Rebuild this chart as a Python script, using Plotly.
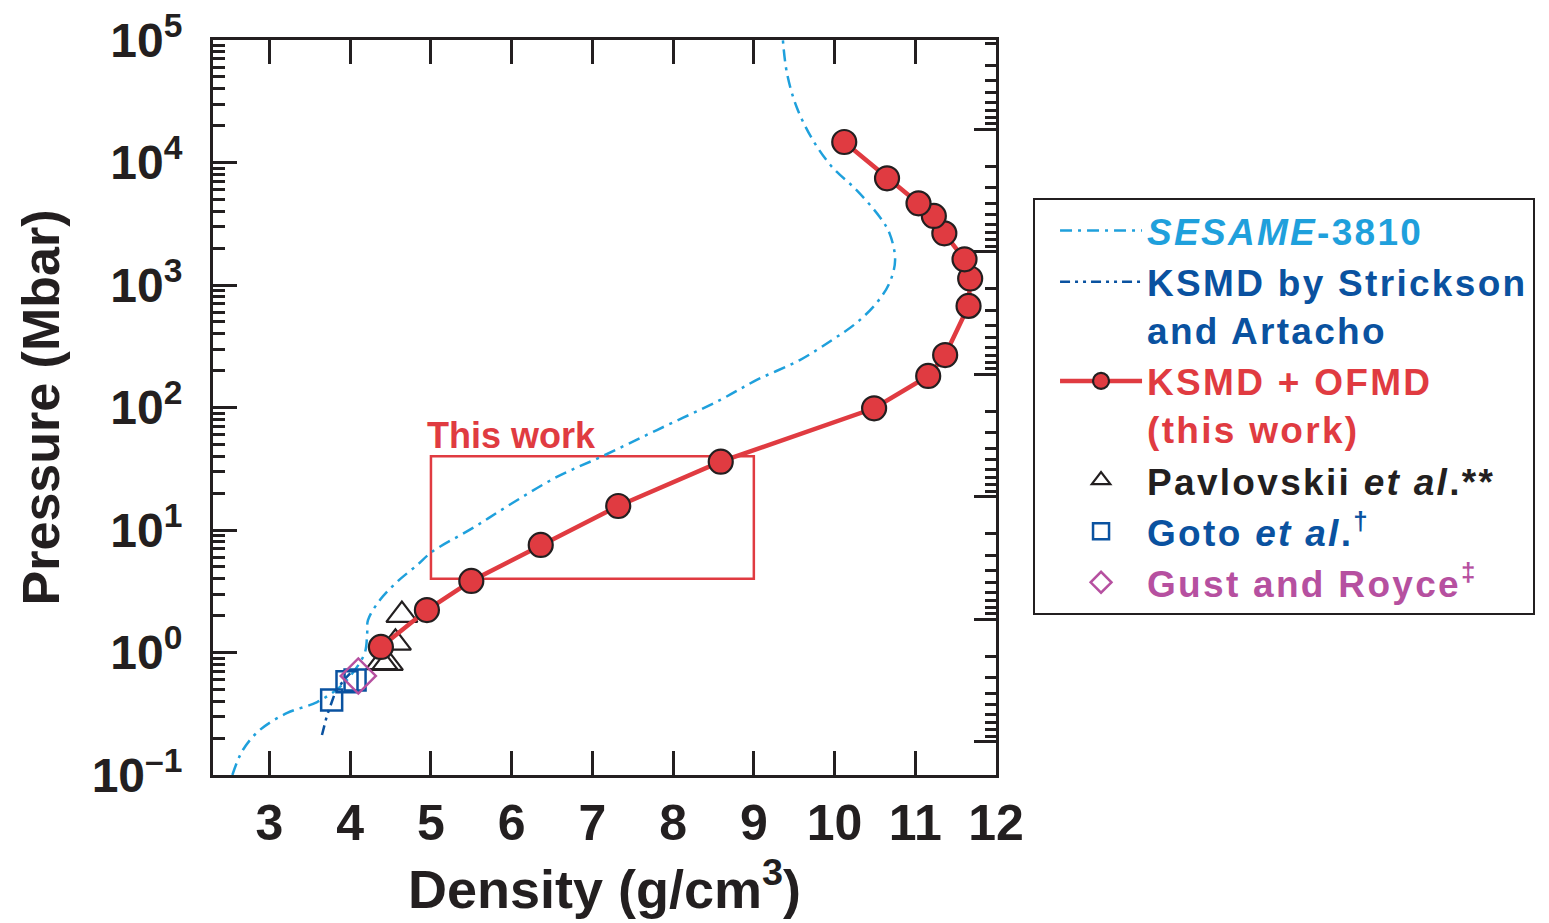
import math
import plotly.graph_objects as go

# ---------------- data ----------------
# SESAME-3810 (density g/cm3, pressure Mbar)
sesame_rho = [2.54, 2.67, 2.88, 3.22, 3.59, 3.87, 4.03, 4.18, 4.21, 4.22, 4.37, 4.58, 4.83, 5.01,
              5.52, 6.01, 6.56, 7.13, 7.80, 8.58, 9.03, 9.57, 9.97, 10.27, 10.52, 10.68, 10.75,
              10.68, 10.56, 10.27, 9.97, 9.73, 9.53, 9.41, 9.36]
sesame_p = [0.100, 0.160, 0.233, 0.321, 0.394, 0.522, 0.681, 0.991, 1.44, 1.84, 2.69, 3.77, 5.18, 6.61,
            10.4, 16.6, 27.1, 40.2, 65.5, 115, 167, 244, 356, 490, 713, 1040, 1600,
            2650, 3590, 5970, 9180, 15300, 28400, 53800, 100000]

# KSMD by Strickson and Artacho
strick_rho = [3.65, 3.71, 3.81, 3.92, 4.00]
strick_p = [0.212, 0.303, 0.465, 0.597, 0.676]

# KSMD + OFMD (this work)
work_rho = [4.38, 4.95, 5.50, 6.36, 7.32, 8.59, 10.49, 11.16, 11.37, 11.66, 11.68, 11.61,
            11.36, 11.23, 11.04, 10.65, 10.12]
work_p = [1.11, 2.22, 3.84, 7.55, 15.7, 36.1, 98.5, 181, 268, 675, 1130, 1620,
          2640, 3660, 4640, 7430, 14700]

# Pavlovskii et al.
pav_rho = [4.64, 4.56, 4.39, 4.46]
pav_p = [2.02, 1.20, 0.83, 0.82]

# Goto et al.
goto_rho = [3.77, 3.96, 4.06]
goto_p = [0.409, 0.578, 0.597]

# Gust and Royce
gust_rho = [4.10]
gust_p = [0.643]

# "This work" box (density range, pressure range)
box_rho = [5, 9]
box_p = [4, 40]

x_ticks = [3, 4, 5, 6, 7, 8, 9, 10, 11, 12]
y_exps = [-1, 0, 1, 2, 3, 4, 5]
y_ticktext = ["10<sup>–1</sup>", "10<sup>0</sup>", "10<sup>1</sup>", "10<sup>2</sup>",
              "10<sup>3</sup>", "10<sup>4</sup>", "10<sup>5</sup>"]

# ---------------- style ----------------
C_SES = "#1fa0dc"
C_DBLUE = "#0a52a0"
C_RED = "#e03b41"
C_BLACK = "#231f20"
C_MAG = "#b650a0"
AX = "#231f20"
FONT = "Liberation Sans, Arial, Helvetica"
LS = "letter-spacing:2.3px"


def lg(color, txt):
    return f"<span style='color:{color};{LS}'>{txt}</span>"


fig = go.Figure()

fig.add_trace(go.Scatter(
    x=sesame_rho, y=sesame_p, mode="lines", line_shape="spline",
    line=dict(color=C_SES, width=2.5, dash="12px,6px,3px,6px"),
    name=lg(C_SES, "<i>SESAME</i>-3810"), legendrank=1))

fig.add_trace(go.Scatter(
    x=strick_rho, y=strick_p, mode="lines",
    line=dict(color=C_DBLUE, width=2.5, dash="10px,5px,3px,5px,3px,5px"),
    name=lg(C_DBLUE, "KSMD by Strickson") + "<br>" + lg(C_DBLUE, "and Artacho"), legendrank=2))

fig.add_trace(go.Scatter(
    x=pav_rho, y=pav_p, mode="markers",
    marker=dict(symbol="triangle-up-open", size=27, color=C_BLACK, line=dict(width=2.2)),
    name=lg(C_BLACK, "Pavlovskii <i>et al</i>.**"), legendrank=4))

fig.add_trace(go.Scatter(
    x=goto_rho, y=goto_p, mode="markers",
    marker=dict(symbol="square-open", size=21, color=C_DBLUE, line=dict(width=2.5)),
    name=lg(C_DBLUE, "Goto <i>et al</i>.<sup>†</sup>"), legendrank=5))

fig.add_trace(go.Scatter(
    x=gust_rho, y=gust_p, mode="markers",
    marker=dict(symbol="diamond-open", size=27, color=C_MAG, line=dict(width=2.5)),
    name=lg(C_MAG, "Gust and Royce<sup>‡</sup>"), legendrank=6))

fig.add_trace(go.Scatter(
    x=work_rho, y=work_p, mode="lines+markers",
    line=dict(color=C_RED, width=4.5),
    marker=dict(symbol="circle", size=24, color=C_RED, line=dict(color=C_BLACK, width=2.2)),
    name=lg(C_RED, "KSMD + OFMD") + "<br>" + lg(C_RED, "(this work)"), legendrank=3))

# empty trace to hold the right-hand (reversed) tick axis
fig.add_trace(go.Scatter(x=[None], y=[None], yaxis="y2", showlegend=False, hoverinfo="skip"))

# "This work" box and label
fig.add_shape(type="rect", xref="x", yref="y", x0=box_rho[0], x1=box_rho[1],
              y0=box_p[0], y1=box_p[1], line=dict(color=C_RED, width=2.5), layer="below")

fig.add_annotation(x=box_rho[0], y=math.log10(box_p[1]), xref="x", yref="y",
                   text="This work", showarrow=False, xanchor="left", yanchor="bottom",
                   xshift=-6, yshift=-2,
                   font=dict(family=FONT, size=36, color=C_RED, weight="bold"))

minor_vals = [m * 10 ** e for e in range(-1, 5) for m in range(2, 10)]

tickfont_y = dict(family=FONT, size=48, color=C_BLACK, weight="bold")
tickfont_x = dict(family=FONT, size=50, color=C_BLACK, weight="bold")

fig.update_layout(
    width=1549, height=923,
    paper_bgcolor="white", plot_bgcolor="white",
    margin=dict(l=213, r=553, t=40, b=148, autoexpand=False),
    showlegend=True,
    legend=dict(
        x=1.0473, y=0.785, xanchor="left", yanchor="top",
        bordercolor=AX, borderwidth=2, bgcolor="white",
        font=dict(family=FONT, size=37, weight="bold"),
        valign="top", itemwidth=82, indentation=20, tracegroupgap=0,
    ),
    xaxis=dict(
        range=[2.30, 12.0], tickmode="array", tickvals=x_ticks,
        ticks="inside", ticklen=24, tickwidth=2.5, tickcolor=AX,
        showline=True, linewidth=3, linecolor=AX, mirror="ticks",
        showgrid=False, zeroline=False, tickfont=tickfont_x, ticklabelstandoff=2,
        automargin=False,
        title=dict(text="Density (g/cm<sup>3</sup>)", standoff=14,
                   font=dict(family=FONT, size=54, color=C_BLACK, weight="bold")),
    ),
    yaxis=dict(
        type="log", range=[-1, 5], tickmode="array",
        tickvals=[10 ** e for e in y_exps], ticktext=y_ticktext,
        ticks="inside", ticklen=24, tickwidth=2.5, tickcolor=AX,
        minor=dict(ticks="inside", ticklen=12, tickwidth=2.5, tickcolor=AX,
                   tickmode="array", tickvals=minor_vals, showgrid=False),
        showline=True, linewidth=3, linecolor=AX, mirror=False,
        showgrid=False, zeroline=False, tickfont=tickfont_y, ticklabelstandoff=18,
        automargin=False,
        title=dict(text="Pressure (Mbar)", standoff=16,
                   font=dict(family=FONT, size=52, color=C_BLACK, weight="bold")),
    ),
    yaxis2=dict(
        type="log", range=[5.271, -0.729], overlaying="y", side="right", anchor="x",
        tickmode="array", tickvals=[10 ** e for e in range(0, 6)],
        ticks="inside", ticklen=22, tickwidth=2.5, tickcolor=AX, showticklabels=False,
        minor=dict(ticks="inside", ticklen=11, tickwidth=2.5, tickcolor=AX,
                   tickmode="array", tickvals=[m * 10 ** e for e in range(-1, 6) for m in range(2, 10)],
                   showgrid=False),
        showline=True, linewidth=3, linecolor=AX,
        showgrid=False, zeroline=False, automargin=False,
    ),
)

fig.write_html("out.html", config={"displayModeBar": False},
               post_script="document.body.style.margin='0';")
